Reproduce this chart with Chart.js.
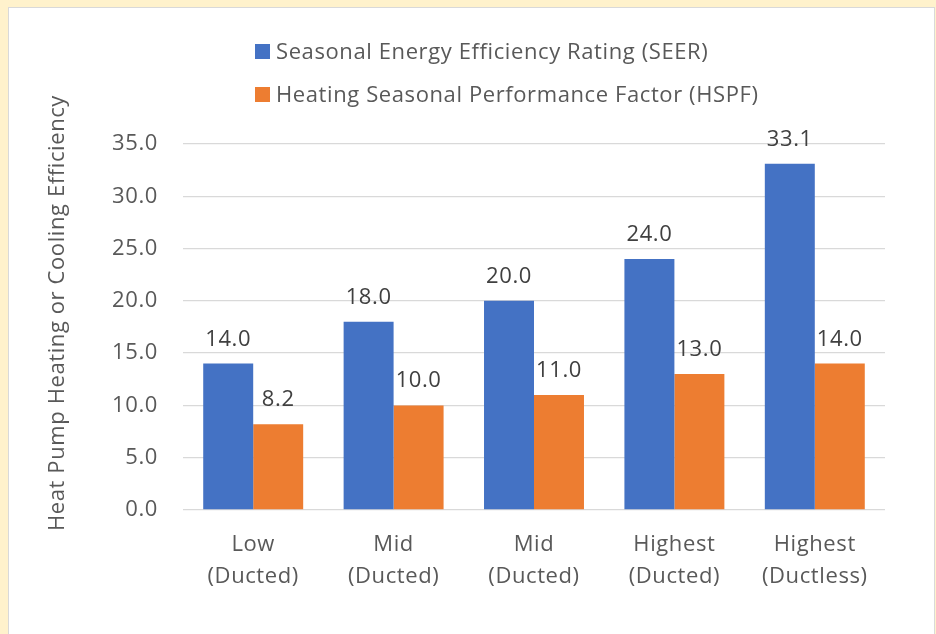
<!DOCTYPE html>
<html>
<head>
<meta charset="utf-8">
<script src="https://cdn.jsdelivr.net/npm/chart.js@4.4.1/dist/chart.umd.min.js"></script>
<style>
  html, body { margin: 0; padding: 0; background: #fff2cc; }
  body { width: 936px; height: 634px; position: relative; overflow: hidden; }
  .panel { position: absolute; left: 8px; top: 7px; width: 925px; height: 660px; background: #fff; border: 1px solid #d9d9d9; }
  #wrap { position: absolute; left: 0; top: 0; width: 936px; height: 634px; }
</style>
</head>
<body>
<div class="panel"></div>
<div id="wrap"><canvas id="chart"></canvas></div>
<script>
// ─── DATA ─────────────────────────────────────────────────
const categories = [
    ['Low', '(Ducted)'],
    ['Mid', '(Ducted)'],
    ['Mid', '(Ducted)'],
    ['Highest', '(Ducted)'],
    ['Highest', '(Ductless)'],
];
const seer = [14.0, 18.0, 20.0, 24.0, 33.1];
const hspf = [8.2, 10.0, 11.0, 13.0, 14.0];
const seriesNames = ['Seasonal Energy Efficiency Rating (SEER)', 'Heating Seasonal Performance Factor (HSPF)'];
const yTitle = 'Heat Pump Heating or Cooling Efficiency';

// ─── STYLE ────────────────────────────────────────────────
const FONT = "'Open Sans', sans-serif";
const FS = 22;
const SPACING = '0.6px';
const TEXT = '#595959';
const BLUE = '#4472c4';
const ORANGE = '#ed7d31';

// slightly wider lettering for everything drawn on the canvas
const wideText = {
    id: 'wideText',
    beforeDraw(chart) {
        chart.ctx.letterSpacing = SPACING;
    },
};

// value labels above each bar
const barLabels = {
    id: 'barLabels',
    afterDatasetsDraw(chart) {
        const ctx = chart.ctx;
        ctx.save();
        ctx.font = `${FS}px ${FONT}`;
        ctx.fillStyle = '#404040';
        ctx.textAlign = 'center';
        ctx.textBaseline = 'alphabetic';
        chart.data.datasets.forEach((ds, i) => {
            chart.getDatasetMeta(i).data.forEach((bar, j) => {
                ctx.fillText(ds.data[j].toFixed(1), bar.x, bar.y - 18);
            });
        });
        ctx.restore();
    },
};

// two-row legend (left aligned) and the rotated axis title
const sideText = {
    id: 'sideText',
    afterDraw(chart) {
        const ctx = chart.ctx;
        ctx.save();
        ctx.font = `${FS}px ${FONT}`;
        ctx.textBaseline = 'middle';
        ctx.textAlign = 'left';
        chart.data.datasets.forEach((ds, i) => {
            const cy = 51.5 + i * 43;
            ctx.fillStyle = ds.backgroundColor;
            ctx.fillRect(255, cy - 7.5, 15, 15);
            ctx.fillStyle = TEXT;
            ctx.fillText(ds.label, 276, cy + 1);
        });
        ctx.translate(57, 313);
        ctx.rotate(-Math.PI / 2);
        ctx.textAlign = 'center';
        ctx.fillText(yTitle, 0, 1);
        ctx.restore();
    },
};

new Chart(document.getElementById('chart'), {
    type: 'bar',
    data: {
        labels: categories,
        datasets: [
            { label: seriesNames[0], data: seer, backgroundColor: BLUE },
            { label: seriesNames[1], data: hspf, backgroundColor: ORANGE },
        ],
    },
    options: {
        responsive: true,
        maintainAspectRatio: false,
        animation: false,
        events: [],
        layout: { padding: { top: 144, right: 51, bottom: 0, left: 0 } },
        datasets: { bar: { categoryPercentage: 0.712, barPercentage: 1.0 } },
        plugins: {
            legend: { display: false },
            tooltip: { enabled: false },
        },
        scales: {
            x: {
                grid: { display: false, drawTicks: false },
                border: { display: false },
                ticks: { color: TEXT, font: { family: FONT, size: FS, lineHeight: 1.45 }, padding: 19, maxRotation: 0 },
                afterFit: (s) => { s.height = 124; },
            },
            y: {
                min: 0,
                max: 35,
                grid: { color: '#d9d9d9', lineWidth: 1.3, drawTicks: false },
                border: { display: false },
                ticks: { stepSize: 5, color: TEXT, font: { family: FONT, size: FS }, padding: 25, callback: (v) => v.toFixed(1) },
                afterFit: (s) => { s.width = 183; },
            },
        },
    },
    plugins: [wideText, barLabels, sideText],
});
</script>
</body>
</html>
